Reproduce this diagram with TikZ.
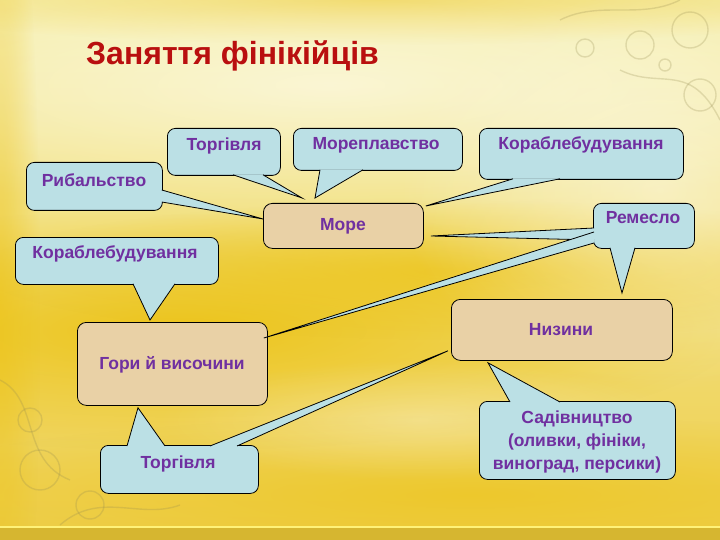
\documentclass[tikz,border=0pt]{standalone}
\usepackage{fontspec}
\setmainfont{Liberation Sans}
\usetikzlibrary{calc,fadings}
\definecolor{titlered}{RGB}{185,15,15}
\definecolor{txtpurple}{RGB}{112,48,160}
\definecolor{cbfill}{RGB}{187,224,229}
\definecolor{parch}{RGB}{233,209,166}
\definecolor{bgtop}{RGB}{246,240,175}
\definecolor{bgmid}{RGB}{243,222,105}
\definecolor{bgbot}{RGB}{238,206,75}
\definecolor{yelA}{RGB}{236,194,18}
\definecolor{gold}{RGB}{214,182,48}
\definecolor{lightline}{RGB}{255,242,120}
\definecolor{orna}{RGB}{150,140,80}
\tikzfading[name=softspot, inner color=transparent!0, outer color=transparent!100]
\newcommand\cwedge[3]{\fill[cbfill] #1 -- #3 -- #2 -- cycle; \draw[edge] #1 -- #3 -- #2;}
\begin{document}
\begin{tikzpicture}[x=1pt,y=-1pt,
  edge/.style={draw=black,line width=0.8pt,line join=miter},
  callbox/.style={draw=black,line width=0.8pt,fill=cbfill,rounded corners=8pt,inner sep=0pt,anchor=north west},
  parchbox/.style={draw=black,line width=0.8pt,fill=parch,rounded corners=9pt,inner sep=0pt,anchor=north west},
  lbl/.style={text=txtpurple,font=\fontsize{17.5}{23}\bfseries\selectfont,inner sep=0pt,align=center},
  ornline/.style={draw=orna,line width=1.4pt,opacity=0.25}
]
\useasboundingbox (0,0) rectangle (720,540);
% ---------- background ----------
\shade[top color=bgtop, middle color=bgmid, bottom color=bgbot] (0,0) rectangle (720,540);
\fill[yelA, path fading=softspot, fill opacity=0.9] (180,330) ellipse [x radius=560, y radius=120];
\fill[yelA, path fading=softspot, fill opacity=0.7] (460,270) ellipse [x radius=480, y radius=70];
\fill[yelA, path fading=softspot, fill opacity=0.6] (470,495) ellipse [x radius=600, y radius=80];
\fill[yelA, path fading=softspot, fill opacity=0.6] (380,0) ellipse [x radius=520, y radius=45];
\fill[white, path fading=softspot, fill opacity=0.55] (330,85) ellipse [x radius=620, y radius=130];
\fill[white, path fading=softspot, fill opacity=0.45] (660,190) ellipse [x radius=260, y radius=200];
\fill[white, path fading=softspot, fill opacity=0.3] (420,420) ellipse [x radius=260, y radius=60];
\fill[yelA, path fading=softspot, fill opacity=0.5] (0,300) ellipse [x radius=40, y radius=500];
% ornaments
\draw[ornline] (640,45) circle [radius=14];
\draw[ornline] (690,30) circle [radius=18];
\draw[ornline] (700,95) circle [radius=16];
\draw[ornline] (585,48) circle [radius=9];
\draw[ornline] (665,65) circle [radius=6];
\draw[ornline] (560,20) .. controls (600,0) and (640,20) .. (680,0);
\draw[ornline] (620,70) .. controls (660,90) and (690,60) .. (720,120);
\draw[ornline] (40,470) circle [radius=20];
\draw[ornline] (30,420) circle [radius=12];
\draw[ornline] (90,505) circle [radius=14];
\draw[ornline] (0,380) .. controls (40,400) and (20,460) .. (70,480);
\draw[ornline] (60,525) .. controls (100,490) and (140,520) .. (180,505);
% frame
\fill[gold] (0,528) rectangle (720,540);
\draw[lightline, line width=2pt] (0,527) -- (720,527);
% ---------- title ----------
\node[font=\fontsize{32}{36}\bfseries\selectfont, text=titlered, anchor=west, inner sep=0pt] (title) at (86,56) {Заняття фінікійців};
% ---------- parchment boxes ----------
\node[parchbox, minimum width=160pt, minimum height=45pt] (sea) at (263,203) {};
\node[parchbox, minimum width=190pt, minimum height=83pt] (gory) at (77,322) {};
\node[parchbox, minimum width=221pt, minimum height=61pt] (niz) at (451,299) {};
\node[lbl] (seatxt) at (343,226) {Море};
\node[lbl] (gorytxt) at (172,365) {Гори й височини};
\node[lbl] (niztxt) at (561,330) {Низини};
% ---------- tips ----------
\coordinate (tipT1) at ($(sea.north west)+(39,-5)$);
\coordinate (tipM) at ($(sea.north west)+(52,-5)$);
\coordinate (tipK1) at ($(sea.north east)+(2,3)$);
\coordinate (tipR) at ($(sea.north west)+(0,16)$);
\coordinate (tipRS) at ($(sea.north east)+(7,33)$);
\coordinate (tipRG) at ($(gory.north east)+(-4,16)$);
\coordinate (tipRN) at ($(niz.north west)+(171,-6)$);
\coordinate (tipK2) at ($(gory.north west)+(73,-2)$);
\coordinate (tipTG) at ($(gory.south west)+(61,2)$);
\coordinate (tipTN) at ($(niz.south west)+(-3,-10)$);
\coordinate (tipSN) at ($(niz.south west)+(37,2)$);
% ---------- callouts ----------
\node[callbox, minimum width=113pt, minimum height=47pt] (torg1) at (167,128) {};
\cwedge{($(torg1.south west)+(66,-1)$)}{($(torg1.south west)+(96,-1)$)}{(tipT1)}
\node[lbl] (torg1txt) at (224,146) {Торгівля};

\node[callbox, minimum width=169pt, minimum height=42pt] (more) at (293,128) {};
\cwedge{($(more.south west)+(27,-1)$)}{($(more.south west)+(70,-1)$)}{(tipM)}
\node[lbl] (moretxt) at (376,145) {Мореплавство};

\node[callbox, minimum width=204pt, minimum height=51pt] (kor1) at (479,128) {};
\cwedge{($(kor1.south west)+(34,-1)$)}{($(kor1.south west)+(81,-1)$)}{(tipK1)}
\node[lbl] (kor1txt) at (581,145) {Кораблебудування};

\node[callbox, minimum width=136pt, minimum height=48pt] (ryb) at (26,162) {};
\cwedge{($(ryb.north east)+(-1,28)$)}{($(ryb.north east)+(-1,40)$)}{(tipR)}
\node[lbl] (rybtxt) at (94,180) {Рибальство};

\node[callbox, minimum width=101pt, minimum height=45pt] (rem) at (593,203) {};
\cwedge{($(rem.north west)+(1,25)$)}{($(rem.north west)+(1,37)$)}{(tipRS)}
\cwedge{($(rem.north west)+(1,29)$)}{($(rem.north west)+(1,40)$)}{(tipRG)}
\cwedge{($(rem.south west)+(17,-1)$)}{($(rem.south west)+(42,-1)$)}{(tipRN)}
\node[lbl] (remtxt) at (643,218) {Ремесло};

\node[callbox, minimum width=203pt, minimum height=47pt] (kor2) at (15,237) {};
\cwedge{($(kor2.south west)+(118,-1)$)}{($(kor2.south west)+(160,-1)$)}{(tipK2)}
\node[lbl] (kor2txt) at (115,254) {Кораблебудування};

\node[callbox, minimum width=158pt, minimum height=48pt] (torg2) at (100,445) {};
\cwedge{($(torg2.north west)+(27,1)$)}{($(torg2.north west)+(65,1)$)}{(tipTG)}
\cwedge{($(torg2.north west)+(110,1)$)}{($(torg2.north west)+(137,1)$)}{(tipTN)}
\node[lbl] (torg2txt) at (178,464) {Торгівля};

\node[callbox, minimum width=196pt, minimum height=78pt] (sad) at (479,401) {};
\cwedge{($(sad.north west)+(31,1)$)}{($(sad.north west)+(81,1)$)}{(tipSN)}
\node[lbl] (sadtxt) at (577,442) {Садівництво\\(оливки, фініки,\\виноград, персики)};
\end{tikzpicture}
\end{document}
